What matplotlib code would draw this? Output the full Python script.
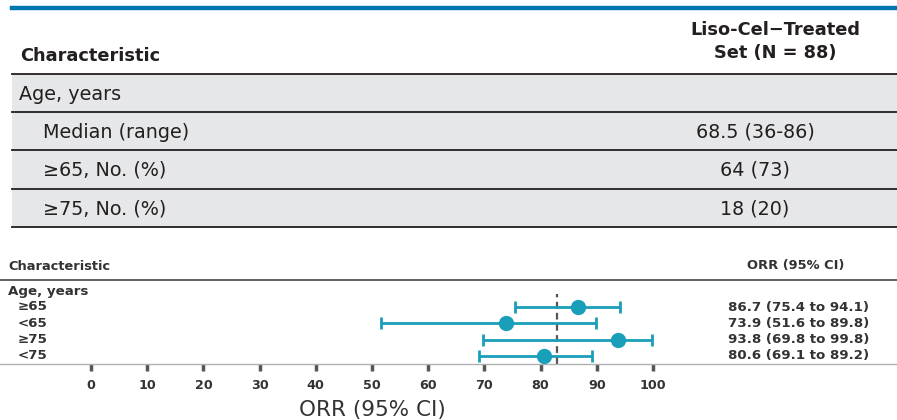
import matplotlib
matplotlib.use("Agg")
import matplotlib.pyplot as plt
from matplotlib.patches import Rectangle
from matplotlib.lines import Line2D
from matplotlib.transforms import blended_transform_factory

plt.rcParams["font.family"] = ["DejaVu Sans"]

# ---- data ----
table_header = ["Characteristic", "Liso-Cel\u2212Treated", "Set (N = 88)"]
table_labels = ["Age, years", "Median (range)", "\u226565, No. (%)", "\u226575, No. (%)"]
table_values = ["", "68.5 (36-86)", "64 (73)", "18 (20)"]
table_indent = [0, 1, 1, 1]

subgroups = ["\u226565", "<65", "\u226575", "<75"]
orr = [86.7, 73.9, 93.8, 80.6]
ci_low = [75.4, 51.6, 69.8, 69.1]
ci_high = [94.1, 89.8, 99.8, 89.2]
overall_orr = 82.9
x_ticks = [0, 10, 20, 30, 40, 50, 60, 70, 80, 90, 100]

W, H = 897, 420
fig = plt.figure(figsize=(W / 100, H / 100), dpi=100)
fig.patch.set_facecolor("white")


def P(x, y):
    return x / W, 1 - y / H


dark = "#231f20"
teal = "#1a9fba"
gray_txt = "#333333"

# ---- baseline characteristics table ----
fig.add_artist(Line2D([12 / W, 1], [1 - 8 / H] * 2, color="#0077b0", lw=3.2))

fig.text(*P(20, 56), table_header[0], fontsize=12.8, fontweight="bold",
         color=dark, va="center", ha="left")
fig.text(*P(775, 30), table_header[1], fontsize=12.8, fontweight="bold",
         color=dark, va="center", ha="center")
fig.text(*P(775, 53), table_header[2], fontsize=12.8, fontweight="bold",
         color=dark, va="center", ha="center")

row_top = 74
row_h = 38.2
for i, (lab, val, ind) in enumerate(zip(table_labels, table_values, table_indent)):
    y0 = row_top + i * row_h
    fig.add_artist(Rectangle(P(12, y0 + row_h), (W - 12) / W, row_h / H,
                             facecolor="#e6e7e8", edgecolor="none"))
    yc = y0 + row_h / 2 + 1
    fig.text(*P(19 + 24 * ind, yc), lab, fontsize=13.8, color=dark,
             va="center", ha="left")
    if val:
        fig.text(*P(755, yc), val, fontsize=13.8, color=dark,
                 va="center", ha="center")
for i in range(len(table_labels) + 1):
    y = row_top + i * row_h
    fig.add_artist(Line2D([12 / W, 1], [1 - y / H] * 2, color=dark, lw=1.3))

# ---- forest plot ----
px_per_unit = 5.62
x0_px = 91
ax_top, ax_bot = 294, 364
ax = fig.add_axes([0, 1 - ax_bot / H, 1, (ax_bot - ax_top) / H])
ax.set_xlim(-x0_px / px_per_unit, (W - x0_px) / px_per_unit)
row_px = 16.33
first_row_px = 307
ax.set_ylim((ax_bot - first_row_px) / row_px, (ax_top - first_row_px) / row_px)

for sp in ["top", "left", "right"]:
    ax.spines[sp].set_visible(False)
ax.spines["bottom"].set_color("#b0b0b0")
ax.spines["bottom"].set_linewidth(1.0)
ax.set_yticks([])
ax.set_xticks(x_ticks)
ax.set_xticklabels([str(t) for t in x_ticks], fontsize=9.2, fontweight="bold",
                   color=gray_txt)
ax.tick_params(axis="x", direction="out", length=5, width=2.5,
               color="#555555", pad=6)
ax.patch.set_alpha(0)

ax.axvline(overall_orr, color="#555555", lw=1.6, ls=(0, (3, 2)), zorder=1)

ypos = list(range(len(subgroups)))
ax.errorbar(orr, ypos,
            xerr=[[o - l for o, l in zip(orr, ci_low)],
                  [h - o for o, h in zip(orr, ci_high)]],
            fmt="o", color=teal, ms=10, elinewidth=2, capsize=4, capthick=2,
            zorder=3, clip_on=False)

# row labels and estimates
lab_tr = blended_transform_factory(fig.transFigure, ax.transData)
fig.text(*P(8, 266), "Characteristic", fontsize=9.4, fontweight="bold",
         color=gray_txt, va="center", ha="left")
fig.text(*P(796, 266), "ORR (95% CI)", fontsize=9.4, fontweight="bold",
         color=gray_txt, va="center", ha="center")
fig.add_artist(Line2D([0, 1], [1 - 280 / H] * 2, color="#555555", lw=1.3))
ax.text(8 / W, -0.95, "Age, years", transform=lab_tr, fontsize=9.6,
        fontweight="bold", color=gray_txt, va="center", ha="left", clip_on=False)
for i, g in enumerate(subgroups):
    ax.text(18 / W, i, g, transform=lab_tr, fontsize=9.6, fontweight="bold",
            color=gray_txt, va="center", ha="left", clip_on=False)
    ax.text(728 / W, i, f"{orr[i]:.1f} ({ci_low[i]:.1f} to {ci_high[i]:.1f})",
            transform=lab_tr, fontsize=9.6, fontweight="bold", color=gray_txt,
            va="center", ha="left", clip_on=False)

fig.text(*P(372, 410), "ORR (95% CI)", fontsize=15.5, color=gray_txt,
         va="center", ha="center")

fig.savefig("out.png", dpi=100, facecolor="white")
